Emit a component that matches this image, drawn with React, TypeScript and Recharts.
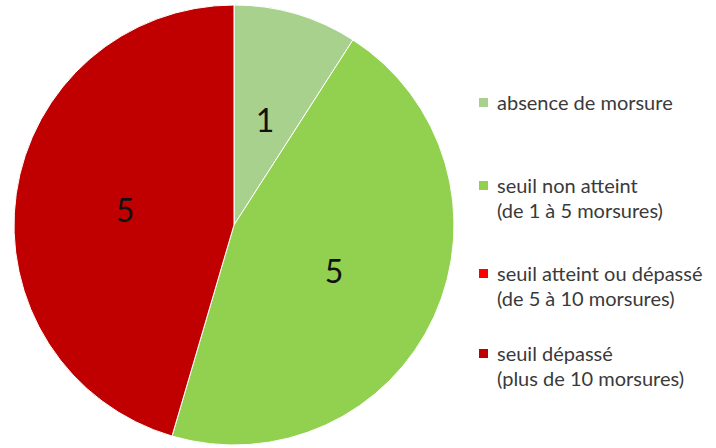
import React from "react";
import { PieChart, Pie, Cell, Legend } from "recharts";

const categories = [
  "absence de morsure",
  "seuil non atteint\n(de 1 à 5 morsures)",
  "seuil atteint ou dépassé\n(de 5 à 10 morsures)",
  "seuil dépassé\n(plus de 10 morsures)",
];
const values = [1, 5, 0, 5];
const colors = ["#a9d18e", "#92d050", "#ff0000", "#c00000"];

const data = categories.map((name, i) => ({ name, value: values[i] }));

const RADIAN = Math.PI / 180;

const renderLabel = (props: any) => {
  const { cx, cy, midAngle, outerRadius, value } = props;
  if (!value) return null;
  const r = outerRadius * 0.5;
  const x = cx + r * Math.cos(-midAngle * RADIAN);
  const y = cy + r * Math.sin(-midAngle * RADIAN);
  return (
    <text
      x={x}
      y={y}
      textAnchor="middle"
      dominantBaseline="central"
      fill="#111"
      fontSize={32}
      fontFamily="Lato, 'Open Sans', sans-serif"
    >
      {value}
    </text>
  );
};

const legendTops = [90, 173, 261, 341];

const renderLegend = () => (
  <div style={{ position: "relative", width: 240, height: 448 }}>
    {data.map((d, i) => (
      <div
        key={i}
        style={{
          position: "absolute",
          left: 0,
          top: legendTops[i],
          display: "flex",
          alignItems: "flex-start",
          fontFamily: "Lato, 'Open Sans', sans-serif",
          fontSize: 20,
          lineHeight: "25px",
          color: "#3a3a3a",
          whiteSpace: "pre",
        }}
      >
        <span
          style={{
            display: "inline-block",
            width: 9,
            height: 9,
            background: colors[i],
            marginTop: 8,
            marginRight: 9,
          }}
        />
        <span>{d.name}</span>
      </div>
    ))}
  </div>
);

export default function App() {
  return (
    <div style={{ position: "absolute", left: 0, top: 0, width: 716, height: 448, background: "#fff" }}>
      <PieChart width={716} height={448} margin={{ top: 0, right: 0, bottom: 0, left: 0 }}>
        <Pie
          data={data}
          dataKey="value"
          nameKey="name"
          cx={234}
          cy={225}
          outerRadius={220}
          startAngle={90}
          endAngle={-270}
          stroke="#ffffff"
          strokeWidth={1}
          label={renderLabel}
          labelLine={false}
          isAnimationActive={false}
        >
          {data.map((_, i) => (
            <Cell key={i} fill={colors[i]} />
          ))}
        </Pie>
        <Legend
          content={renderLegend}
          wrapperStyle={{ position: "absolute", left: 479, top: 0, width: 240, height: 448 }}
        />
      </PieChart>
    </div>
  );
}
